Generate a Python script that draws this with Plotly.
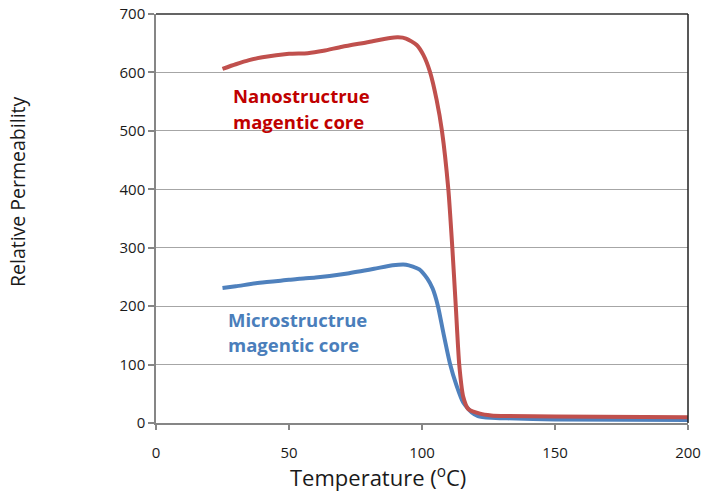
import plotly.graph_objects as go

# Nanostructure core (red)
temp_nano = [25, 30, 35, 40, 50, 57, 63, 70, 80, 88, 91, 94, 98, 100.5, 103, 105.5, 107.5,
             109.9, 111.4, 112.7, 114, 115.5, 117.4, 121.8, 126, 132, 150, 200]
perm_nano = [606, 614, 621, 626, 632, 633, 637, 644, 652, 659, 660, 658, 647, 630, 601, 553, 500,
             400, 300, 200, 100, 45, 24, 16, 13, 12, 11, 10]

# Microstructure core (blue)
temp_micro = [25, 30, 39, 50, 54, 60, 72, 82, 89, 94, 99, 102, 104, 106, 108, 110.5, 113, 115.5,
              118.7, 121, 126, 132, 150, 200]
perm_micro = [231, 234, 240, 245, 247, 249, 256, 264, 270, 271, 263, 247, 230, 200, 155, 102, 64, 35,
              18, 12, 9, 8, 6, 5]

x_ticks = [0, 50, 100, 150, 200]
y_ticks = [0, 100, 200, 300, 400, 500, 600, 700]

nano_label = ["Nanostructrue", "magentic core"]
micro_label = ["Microstructrue", "magentic core"]

RED = "#C0504D"
BLUE = "#4F81BD"

W, H = 704, 495
ML, MT = 156, 14
MR = W - 688.5
MB = H - 423.3
PW, PH = W - ML - MR, H - MT - MB


def px_to_paper(px, py):
    return (px - ML) / PW, (H - MB - py) / PH


fig = go.Figure()
fig.add_trace(go.Scatter(x=temp_micro, y=perm_micro, mode="lines",
                         line=dict(color=BLUE, width=4, shape="spline", smoothing=0.6),
                         showlegend=False, hoverinfo="skip"))
fig.add_trace(go.Scatter(x=temp_nano, y=perm_nano, mode="lines",
                         line=dict(color=RED, width=4, shape="spline", smoothing=0.6),
                         showlegend=False, hoverinfo="skip"))

FONT = "Open Sans, Liberation Sans, sans-serif"
tick_font = dict(family=FONT, size=15, color="#1a1a1a")

fig.update_xaxes(range=[0, 200], tickvals=x_ticks, ticks="outside", ticklen=5, tickcolor="#868686",
                 tickwidth=1.5, showline=True, linecolor="#868686", linewidth=1.5,
                 showgrid=False, zeroline=False, tickfont=tick_font, ticklabelstandoff=10,
                 automargin=False, ticklabeloverflow="allow")
fig.update_yaxes(range=[0, 700], tickvals=y_ticks, ticks="outside", ticklen=6, tickcolor="#868686",
                 tickwidth=1.5, showline=True, linecolor="#868686", linewidth=1.5,
                 showgrid=True, gridcolor="#A6A6A6", gridwidth=1, zeroline=False, tickfont=tick_font,
                 automargin=False, ticklabeloverflow="allow")

# top and right frame lines
fig.add_shape(type="line", xref="x domain", yref="y domain", x0=0, x1=1, y0=1, y1=1,
              line=dict(color="#303030", width=1.5))
fig.add_shape(type="line", xref="x domain", yref="y domain", x0=1, x1=1, y0=0, y1=1,
              line=dict(color="#202020", width=1.5))

# series labels, one annotation per line for exact spacing
for text, (px, py) in zip(nano_label, [(231, 96), (231, 122)]):
    ax, ay = px_to_paper(px, py)
    fig.add_annotation(x=ax, y=ay, xref="paper", yref="paper", xanchor="left", yanchor="middle",
                       text=f"<b>{text}</b>", showarrow=False,
                       font=dict(family=FONT, size=18.5, color="#C00000"))
for text, (px, py) in zip(micro_label, [(226, 320), (226, 345)]):
    ax, ay = px_to_paper(px, py)
    fig.add_annotation(x=ax, y=ay, xref="paper", yref="paper", xanchor="left", yanchor="middle",
                       text=f"<b>{text}</b>", showarrow=False,
                       font=dict(family=FONT, size=18.5, color="#4A7EBB"))

# axis titles
tx, ty = px_to_paper(378, 477)
fig.add_annotation(x=tx, y=ty, xref="paper", yref="paper", showarrow=False,
                   xanchor="center", yanchor="middle",
                   text="Temperature (<sup>o</sup>C)",
                   font=dict(family=FONT, size=22, color="#1a1a1a"))
yx, yy = px_to_paper(18, 192)
fig.add_annotation(x=yx, y=yy, xref="paper", yref="paper", showarrow=False,
                   xanchor="center", yanchor="middle",
                   text="Relative Permeability", textangle=-90,
                   font=dict(family=FONT, size=19.5, color="#1a1a1a"))

fig.update_layout(width=W, height=H, margin=dict(l=ML, r=MR, t=MT, b=MB),
                  plot_bgcolor="white", paper_bgcolor="white", hovermode=False)

# remove the default 8px page margin so the figure sits at the window origin
fig.write_html("out.html", config={"displayModeBar": False},
               post_script="document.body.style.margin='0';")
